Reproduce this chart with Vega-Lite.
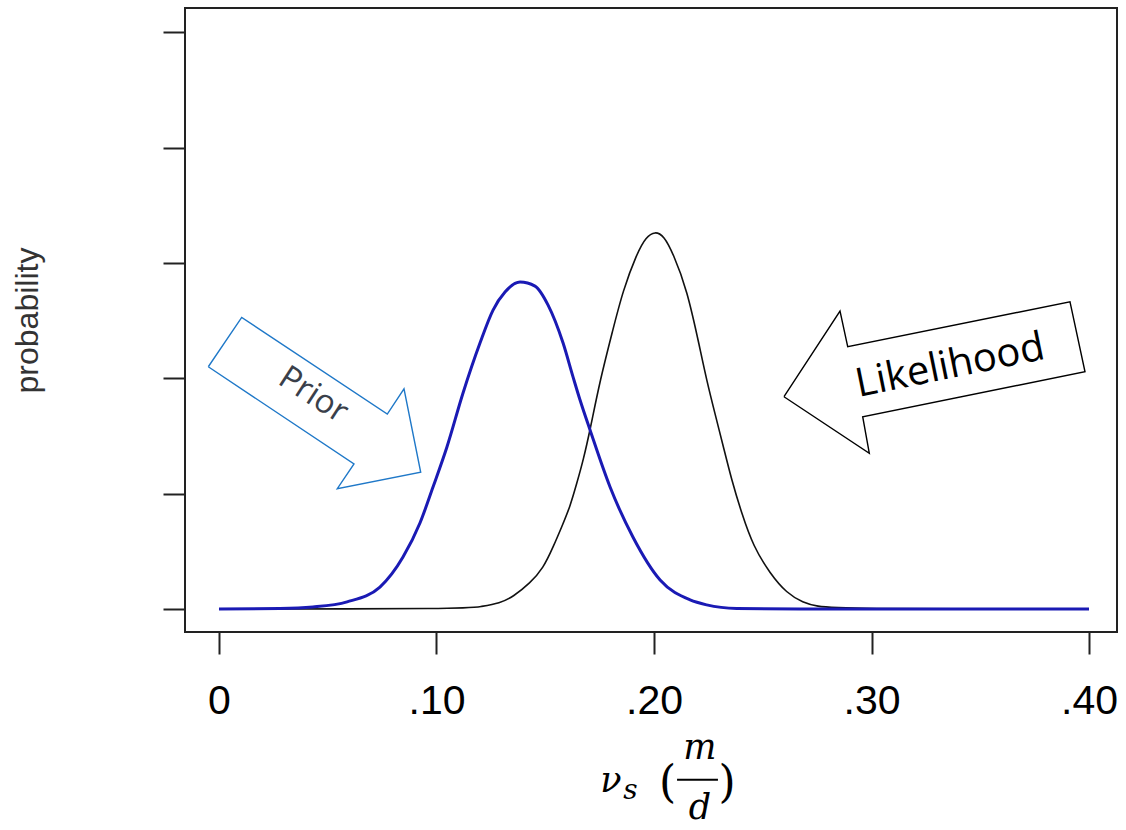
{
  "$schema": "https://vega.github.io/schema/vega-lite/v6.json",
  "width": 932,
  "height": 624,
  "autosize": {"type": "none"},
  "padding": {"left": 185, "top": 8, "right": 9, "bottom": 198},
  "background": "white",
  "config": {
    "view": {"stroke": "#222222", "strokeWidth": 2},
    "axis": {"grid": false, "domain": false, "tickColor": "#222222", "tickWidth": 2, "tickSize": 22}
  },
  "datasets": {
    "curves": [
      {"curve": "Likelihood", "v": 0.0, "p": 0},
      {"curve": "Likelihood", "v": 0.114, "p": 0},
      {"curve": "Likelihood", "v": 0.12, "p": 0.02},
      {"curve": "Likelihood", "v": 0.1292, "p": 0.049},
      {"curve": "Likelihood", "v": 0.1353, "p": 0.107},
      {"curve": "Likelihood", "v": 0.143, "p": 0.223},
      {"curve": "Likelihood", "v": 0.1491, "p": 0.353},
      {"curve": "Likelihood", "v": 0.1537, "p": 0.54},
      {"curve": "Likelihood", "v": 0.1576, "p": 0.713},
      {"curve": "Likelihood", "v": 0.1614, "p": 0.886},
      {"curve": "Likelihood", "v": 0.1645, "p": 1.089},
      {"curve": "Likelihood", "v": 0.1675, "p": 1.291},
      {"curve": "Likelihood", "v": 0.1706, "p": 1.551},
      {"curve": "Likelihood", "v": 0.1752, "p": 1.984},
      {"curve": "Likelihood", "v": 0.1811, "p": 2.42},
      {"curve": "Likelihood", "v": 0.1857, "p": 2.76},
      {"curve": "Likelihood", "v": 0.1922, "p": 3.085},
      {"curve": "Likelihood", "v": 0.1963, "p": 3.225},
      {"curve": "Likelihood", "v": 0.2005, "p": 3.275},
      {"curve": "Likelihood", "v": 0.2046, "p": 3.234},
      {"curve": "Likelihood", "v": 0.2087, "p": 3.085},
      {"curve": "Likelihood", "v": 0.2152, "p": 2.77},
      {"curve": "Likelihood", "v": 0.2211, "p": 2.26},
      {"curve": "Likelihood", "v": 0.2242, "p": 1.984},
      {"curve": "Likelihood", "v": 0.228, "p": 1.696},
      {"curve": "Likelihood", "v": 0.2319, "p": 1.406},
      {"curve": "Likelihood", "v": 0.2357, "p": 1.118},
      {"curve": "Likelihood", "v": 0.2403, "p": 0.829},
      {"curve": "Likelihood", "v": 0.2457, "p": 0.54},
      {"curve": "Likelihood", "v": 0.2533, "p": 0.309},
      {"curve": "Likelihood", "v": 0.261, "p": 0.136},
      {"curve": "Likelihood", "v": 0.2686, "p": 0.055},
      {"curve": "Likelihood", "v": 0.2748, "p": 0.023},
      {"curve": "Likelihood", "v": 0.285, "p": 0},
      {"curve": "Likelihood", "v": 0.4, "p": 0},
      {"curve": "Prior", "v": 0.0, "p": 0},
      {"curve": "Prior", "v": 0.028, "p": 0.004},
      {"curve": "Prior", "v": 0.0432, "p": 0.017},
      {"curve": "Prior", "v": 0.0589, "p": 0.061},
      {"curve": "Prior", "v": 0.074, "p": 0.19},
      {"curve": "Prior", "v": 0.0846, "p": 0.45},
      {"curve": "Prior", "v": 0.0924, "p": 0.745},
      {"curve": "Prior", "v": 0.0984, "p": 1.057},
      {"curve": "Prior", "v": 0.1048, "p": 1.404},
      {"curve": "Prior", "v": 0.1122, "p": 1.872},
      {"curve": "Prior", "v": 0.12, "p": 2.305},
      {"curve": "Prior", "v": 0.126, "p": 2.591},
      {"curve": "Prior", "v": 0.1315, "p": 2.747},
      {"curve": "Prior", "v": 0.1384, "p": 2.834},
      {"curve": "Prior", "v": 0.1453, "p": 2.799},
      {"curve": "Prior", "v": 0.1513, "p": 2.634},
      {"curve": "Prior", "v": 0.1582, "p": 2.305},
      {"curve": "Prior", "v": 0.1628, "p": 2.01},
      {"curve": "Prior", "v": 0.166, "p": 1.811},
      {"curve": "Prior", "v": 0.1706, "p": 1.551},
      {"curve": "Prior", "v": 0.1798, "p": 1.057},
      {"curve": "Prior", "v": 0.1903, "p": 0.624},
      {"curve": "Prior", "v": 0.2028, "p": 0.251},
      {"curve": "Prior", "v": 0.2166, "p": 0.078},
      {"curve": "Prior", "v": 0.2242, "p": 0.035},
      {"curve": "Prior", "v": 0.238, "p": 0.004},
      {"curve": "Prior", "v": 0.267, "p": 0},
      {"curve": "Prior", "v": 0.4, "p": 0}
    ],
    "arrows": [
      {"arrow": "Prior", "i": 1, "v": -0.00492, "p": 2.0997},
      {"arrow": "Prior", "i": 2, "v": 0.01044, "p": 2.5277},
      {"arrow": "Prior", "i": 3, "v": 0.07738, "p": 1.6898},
      {"arrow": "Prior", "i": 4, "v": 0.08506, "p": 1.909},
      {"arrow": "Prior", "i": 5, "v": 0.09274, "p": 1.1846},
      {"arrow": "Prior", "i": 6, "v": 0.05439, "p": 1.0425},
      {"arrow": "Prior", "i": 7, "v": 0.06207, "p": 1.2565},
      {"arrow": "Prior", "i": 8, "v": -0.00492, "p": 2.0997},
      {"arrow": "Likelihood", "i": 1, "v": 0.25977, "p": 1.8397},
      {"arrow": "Likelihood", "i": 2, "v": 0.28552, "p": 2.5823},
      {"arrow": "Likelihood", "i": 3, "v": 0.28906, "p": 2.273},
      {"arrow": "Likelihood", "i": 4, "v": 0.39126, "p": 2.663},
      {"arrow": "Likelihood", "i": 5, "v": 0.39816, "p": 2.0563},
      {"arrow": "Likelihood", "i": 6, "v": 0.29595, "p": 1.6664},
      {"arrow": "Likelihood", "i": 7, "v": 0.29899, "p": 1.3492},
      {"arrow": "Likelihood", "i": 8, "v": 0.25977, "p": 1.8397}
    ],
    "labels": [
      {"label": "Prior", "v": 0.04336, "p": 1.854},
      {"label": "Likelihood", "v": 0.3361, "p": 2.1057}
    ],
    "xtitle": [
      {"part": "nu", "t": "ν", "v": 0.1802, "p": -1.49},
      {"part": "m", "t": "m", "v": 0.2211, "p": -1.204},
      {"part": "d", "t": "d", "v": 0.2211, "p": -1.724},
      {"part": "s", "t": "s", "v": 0.1892, "p": -1.577},
      {"part": "open", "t": "(", "v": 0.2062, "p": -1.516},
      {"part": "close", "t": ")", "v": 0.2336, "p": -1.516}
    ],
    "bar": [
      {"v": 0.2106, "v2": 0.2294, "p": -1.482}
    ]
  },
  "layer": [
    {
      "data": {"name": "curves"},
      "transform": [{"filter": "datum.curve == 'Likelihood'"}],
      "mark": {"type": "line", "color": "#111111", "strokeWidth": 1.6, "interpolate": "basis"},
      "encoding": {
        "x": {
          "field": "v", "type": "quantitative",
          "scale": {"domain": [-0.01563, 0.41287], "nice": false, "zero": false},
          "axis": {
            "title": null, "values": [0, 0.1, 0.2, 0.3, 0.4],
            "labelExpr": "datum.value == 0 ? '0' : replace(format(datum.value, '.2f'), '0.', '.')",
            "labelFont": "Liberation Sans", "labelFontSize": 41, "labelColor": "#000000",
            "labelPadding": 27, "labelFlush": false, "labelOverlap": false
          }
        },
        "y": {
          "field": "p", "type": "quantitative",
          "scale": {"domain": [-0.2, 5.21], "nice": false, "zero": false},
          "axis": {
            "title": "probability", "values": [0, 1, 2, 3, 4, 5], "labels": false,
            "titleFont": "Liberation Sans", "titleFontSize": 32, "titleFontWeight": "normal",
            "titleColor": "#333333", "titlePadding": 118
          }
        }
      }
    },
    {
      "data": {"name": "curves"},
      "transform": [{"filter": "datum.curve == 'Prior'"}],
      "mark": {"type": "line", "color": "#1a1ab4", "strokeWidth": 3, "interpolate": "monotone"},
      "encoding": {
        "x": {"field": "v", "type": "quantitative"},
        "y": {"field": "p", "type": "quantitative"}
      }
    },
    {
      "data": {"name": "arrows"},
      "transform": [{"filter": "datum.arrow == 'Prior'"}],
      "mark": {"type": "line", "color": "#1f78c8", "strokeWidth": 1.4, "strokeJoin": "miter"},
      "encoding": {
        "x": {"field": "v", "type": "quantitative"},
        "y": {"field": "p", "type": "quantitative"},
        "order": {"field": "i", "type": "quantitative"}
      }
    },
    {
      "data": {"name": "arrows"},
      "transform": [{"filter": "datum.arrow == 'Likelihood'"}],
      "mark": {"type": "line", "color": "#000000", "strokeWidth": 1.4, "strokeJoin": "miter"},
      "encoding": {
        "x": {"field": "v", "type": "quantitative"},
        "y": {"field": "p", "type": "quantitative"},
        "order": {"field": "i", "type": "quantitative"}
      }
    },
    {
      "data": {"name": "labels"},
      "transform": [{"filter": "datum.label == 'Prior'"}],
      "mark": {"type": "text", "font": "Open Sans", "fontSize": 33, "angle": 33, "color": "#3a3f4a", "align": "center", "baseline": "middle"},
      "encoding": {
        "x": {"field": "v", "type": "quantitative"},
        "y": {"field": "p", "type": "quantitative"},
        "text": {"field": "label"}
      }
    },
    {
      "data": {"name": "labels"},
      "transform": [{"filter": "datum.label == 'Likelihood'"}],
      "mark": {"type": "text", "font": "Open Sans", "fontSize": 40, "angle": -11.5, "color": "#000000", "align": "center", "baseline": "middle"},
      "encoding": {
        "x": {"field": "v", "type": "quantitative"},
        "y": {"field": "p", "type": "quantitative"},
        "text": {"field": "label"}
      }
    },
    {
      "data": {"name": "xtitle"},
      "transform": [{"filter": "indexof(['nu','m','d'], datum.part) >= 0"}],
      "mark": {"type": "text", "font": "DejaVu Serif", "fontStyle": "italic", "fontSize": 35, "color": "#000000", "align": "center", "baseline": "middle"},
      "encoding": {
        "x": {"field": "v", "type": "quantitative"},
        "y": {"field": "p", "type": "quantitative"},
        "text": {"field": "t"}
      }
    },
    {
      "data": {"name": "xtitle"},
      "transform": [{"filter": "datum.part == 's'"}],
      "mark": {"type": "text", "font": "DejaVu Serif", "fontStyle": "italic", "fontSize": 28, "color": "#000000", "align": "center", "baseline": "middle"},
      "encoding": {
        "x": {"field": "v", "type": "quantitative"},
        "y": {"field": "p", "type": "quantitative"},
        "text": {"field": "t"}
      }
    },
    {
      "data": {"name": "xtitle"},
      "transform": [{"filter": "datum.part == 'open' || datum.part == 'close'"}],
      "mark": {"type": "text", "font": "DejaVu Serif", "fontSize": 44, "color": "#000000", "align": "center", "baseline": "middle"},
      "encoding": {
        "x": {"field": "v", "type": "quantitative"},
        "y": {"field": "p", "type": "quantitative"},
        "text": {"field": "t"}
      }
    },
    {
      "data": {"name": "bar"},
      "mark": {"type": "rule", "color": "#000000", "strokeWidth": 2},
      "encoding": {
        "x": {"field": "v", "type": "quantitative"},
        "x2": {"field": "v2"},
        "y": {"field": "p", "type": "quantitative"}
      }
    }
  ]
}
